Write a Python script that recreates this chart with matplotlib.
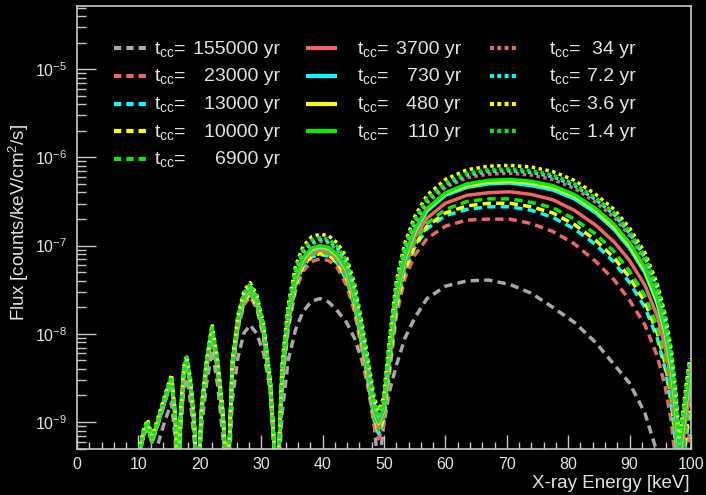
import matplotlib
matplotlib.use("Agg")
import matplotlib.pyplot as plt
import numpy as np
from matplotlib.lines import Line2D
from matplotlib.ticker import FixedLocator, MultipleLocator, NullFormatter

plt.rcParams["font.family"] = ["Liberation Sans", "DejaVu Sans"]
plt.rcParams["mathtext.fontset"] = "custom"
plt.rcParams["mathtext.rm"] = "Liberation Sans"
plt.rcParams["mathtext.it"] = "Liberation Sans:italic"
plt.rcParams["mathtext.default"] = "regular"

BG = "black"
FRAME = "#c8c8c8"
TEXT = "#e2e2e2"
C_GRAY = "#a8a8a8"
C_RED = "#f06464"
C_CYAN = "#00ffff"
C_YELLOW = "#ffff00"
C_GREEN = "#00f000"

# X-ray energy grid [keV]
energy = [10.0, 10.8, 11.5, 12.2, 13.0, 13.8, 14.6, 15.4, 16.0, 16.4,
          16.9, 17.4, 17.9, 18.5, 19.1, 19.6, 20.3, 21.1, 22.0, 22.9,
          23.8, 24.5, 25.3, 26.2, 27.2, 28.2, 29.3, 30.4, 31.5, 32.6,
          33.4, 34.4, 35.6, 36.8, 38.2, 39.6, 41.0, 42.4, 43.9, 45.2,
          46.4, 47.6, 48.4, 49.1, 49.9, 50.9, 52.0, 53.4, 55.0, 57.0,
          60.0, 63.5, 67.0, 70.5, 74.0, 77.5, 81.0, 84.5, 87.5, 90.0,
          92.5, 94.5, 95.8, 96.8, 97.5, 98.1, 98.6, 99.2, 99.8]

# log10 of flux [counts/keV/cm2/s], one list per t_cc
logflux_155000 = [
    -9.90, -9.60, -9.45, -9.60, -9.30, -9.10, -8.93, -8.78, -9.20, -9.95,
    -9.10, -8.62, -8.50, -8.78, -9.22, -9.95, -9.05, -8.57, -8.18, -8.58,
    -9.20, -9.95, -8.75, -8.27, -7.99, -7.90, -8.00, -8.22, -8.65, -9.95,
    -8.90, -8.30, -7.95, -7.75, -7.63, -7.60, -7.64, -7.74, -7.87, -8.05,
    -8.30, -8.65, -9.00, -9.60, -9.05, -8.65, -8.36, -8.05, -7.82, -7.60,
    -7.46, -7.40, -7.39, -7.44, -7.54, -7.70, -7.87, -8.10, -8.35, -8.56,
    -8.90, -9.35, -9.80, -10.30, -10.90, -11.50, -11.20, -10.70, -10.30]
logflux_23000 = [
    -9.42, -9.17, -9.05, -9.24, -9.07, -8.89, -8.71, -8.54, -8.97, -9.80,
    -8.95, -8.47, -8.35, -8.63, -9.07, -9.80, -8.92, -8.42, -8.02, -8.42,
    -9.02, -9.80, -8.45, -7.95, -7.67, -7.58, -7.72, -8.05, -8.68, -9.80,
    -8.60, -7.95, -7.51, -7.29, -7.18, -7.15, -7.17, -7.25, -7.45, -7.75,
    -8.19, -8.69, -9.04, -9.19, -9.05, -8.45, -7.80, -7.37, -7.11, -6.92,
    -6.78, -6.71, -6.70, -6.70, -6.75, -6.84, -6.98, -7.18, -7.39, -7.62,
    -7.90, -8.25, -8.60, -9.00, -9.45, -10.00, -9.75, -9.40, -9.10]
logflux_13000 = [
    -9.41, -9.16, -9.04, -9.23, -9.06, -8.88, -8.70, -8.53, -8.96, -9.80,
    -8.93, -8.45, -8.33, -8.61, -9.05, -9.80, -8.90, -8.40, -8.00, -8.40,
    -9.00, -9.80, -8.42, -7.92, -7.64, -7.55, -7.69, -8.02, -8.65, -9.80,
    -8.55, -7.90, -7.46, -7.24, -7.13, -7.10, -7.12, -7.20, -7.39, -7.69,
    -8.13, -8.63, -8.98, -9.13, -8.99, -8.37, -7.72, -7.29, -7.02, -6.81,
    -6.66, -6.59, -6.56, -6.56, -6.60, -6.68, -6.81, -6.99, -7.19, -7.42,
    -7.70, -8.05, -8.40, -8.80, -9.25, -9.80, -9.55, -9.20, -8.90]
logflux_10000 = [
    -9.41, -9.16, -9.04, -9.23, -9.06, -8.88, -8.70, -8.53, -8.96, -9.80,
    -8.93, -8.45, -8.33, -8.61, -9.05, -9.80, -8.89, -8.39, -7.99, -8.39,
    -8.99, -9.80, -8.41, -7.91, -7.63, -7.54, -7.68, -8.01, -8.64, -9.80,
    -8.54, -7.89, -7.45, -7.23, -7.12, -7.09, -7.11, -7.19, -7.37, -7.67,
    -8.11, -8.61, -8.96, -9.11, -8.97, -8.35, -7.70, -7.27, -7.00, -6.78,
    -6.63, -6.55, -6.52, -6.52, -6.56, -6.63, -6.76, -6.94, -7.14, -7.36,
    -7.64, -7.99, -8.34, -8.74, -9.19, -9.74, -9.49, -9.14, -8.84]
logflux_6900 = [
    -9.41, -9.16, -9.04, -9.23, -9.06, -8.88, -8.70, -8.53, -8.96, -9.80,
    -8.92, -8.44, -8.32, -8.60, -9.04, -9.80, -8.88, -8.38, -7.98, -8.38,
    -8.98, -9.80, -8.40, -7.90, -7.62, -7.53, -7.67, -8.00, -8.63, -9.80,
    -8.52, -7.87, -7.43, -7.21, -7.10, -7.07, -7.09, -7.17, -7.35, -7.65,
    -8.09, -8.59, -8.94, -9.09, -8.95, -8.32, -7.67, -7.24, -6.96, -6.75,
    -6.59, -6.50, -6.47, -6.47, -6.51, -6.57, -6.70, -6.87, -7.07, -7.29,
    -7.57, -7.92, -8.27, -8.67, -9.12, -9.67, -9.42, -9.07, -8.77]
logflux_3700 = [
    -9.41, -9.16, -9.04, -9.23, -9.06, -8.88, -8.70, -8.53, -8.96, -9.80,
    -8.91, -8.43, -8.31, -8.59, -9.03, -9.80, -8.87, -8.37, -7.97, -8.37,
    -8.97, -9.80, -8.38, -7.88, -7.60, -7.51, -7.65, -7.98, -8.61, -9.80,
    -8.50, -7.85, -7.41, -7.19, -7.08, -7.05, -7.07, -7.15, -7.32, -7.62,
    -8.06, -8.56, -8.91, -9.06, -8.92, -8.28, -7.63, -7.20, -6.91, -6.69,
    -6.52, -6.43, -6.40, -6.39, -6.42, -6.48, -6.60, -6.77, -6.96, -7.17,
    -7.45, -7.80, -8.15, -8.55, -9.00, -9.55, -9.30, -8.95, -8.65]
logflux_730 = [
    -9.40, -9.15, -9.03, -9.22, -9.05, -8.87, -8.69, -8.52, -8.95, -9.80,
    -8.90, -8.42, -8.30, -8.58, -9.02, -9.80, -8.85, -8.35, -7.95, -8.35,
    -8.95, -9.80, -8.36, -7.86, -7.58, -7.49, -7.63, -7.96, -8.59, -9.80,
    -8.47, -7.82, -7.38, -7.16, -7.05, -7.02, -7.04, -7.12, -7.28, -7.58,
    -8.02, -8.52, -8.87, -9.02, -8.88, -8.23, -7.58, -7.15, -6.85, -6.61,
    -6.43, -6.34, -6.30, -6.29, -6.32, -6.37, -6.47, -6.63, -6.82, -7.03,
    -7.31, -7.66, -8.01, -8.41, -8.86, -9.41, -9.16, -8.81, -8.51]
logflux_480 = [
    -9.40, -9.15, -9.03, -9.22, -9.05, -8.87, -8.69, -8.52, -8.95, -9.80,
    -8.90, -8.42, -8.30, -8.58, -9.02, -9.80, -8.85, -8.35, -7.95, -8.35,
    -8.95, -9.80, -8.35, -7.85, -7.57, -7.48, -7.62, -7.95, -8.58, -9.80,
    -8.46, -7.81, -7.37, -7.15, -7.04, -7.01, -7.03, -7.11, -7.27, -7.57,
    -8.01, -8.51, -8.86, -9.01, -8.87, -8.21, -7.56, -7.13, -6.83, -6.59,
    -6.41, -6.32, -6.28, -6.27, -6.29, -6.34, -6.44, -6.60, -6.79, -7.00,
    -7.28, -7.63, -7.98, -8.38, -8.83, -9.38, -9.13, -8.78, -8.48]
logflux_110 = [
    -9.40, -9.15, -9.03, -9.22, -9.05, -8.87, -8.69, -8.52, -8.95, -9.80,
    -8.90, -8.42, -8.30, -8.58, -9.02, -9.80, -8.85, -8.35, -7.95, -8.35,
    -8.95, -9.80, -8.35, -7.85, -7.57, -7.48, -7.62, -7.95, -8.58, -9.80,
    -8.45, -7.80, -7.36, -7.14, -7.03, -7.00, -7.02, -7.10, -7.26, -7.56,
    -8.00, -8.50, -8.85, -9.00, -8.86, -8.20, -7.55, -7.12, -6.82, -6.58,
    -6.40, -6.30, -6.26, -6.25, -6.27, -6.32, -6.42, -6.58, -6.76, -6.97,
    -7.25, -7.60, -7.95, -8.35, -8.80, -9.35, -9.10, -8.75, -8.45]
logflux_34 = [
    -9.38, -9.13, -9.01, -9.20, -9.03, -8.85, -8.67, -8.50, -8.93, -9.80,
    -8.88, -8.40, -8.28, -8.56, -9.00, -9.80, -8.83, -8.33, -7.93, -8.33,
    -8.93, -9.80, -8.33, -7.83, -7.55, -7.46, -7.60, -7.93, -8.56, -9.80,
    -8.40, -7.75, -7.31, -7.09, -6.98, -6.95, -6.97, -7.05, -7.21, -7.51,
    -7.95, -8.45, -8.80, -8.95, -8.81, -8.14, -7.49, -7.06, -6.76, -6.52,
    -6.34, -6.23, -6.19, -6.18, -6.20, -6.25, -6.35, -6.51, -6.68, -6.89,
    -7.17, -7.52, -7.87, -8.27, -8.72, -9.27, -9.02, -8.67, -8.37]
logflux_7p2 = [
    -9.37, -9.12, -9.00, -9.19, -9.02, -8.84, -8.66, -8.49, -8.92, -9.80,
    -8.87, -8.39, -8.27, -8.55, -8.99, -9.80, -8.82, -8.32, -7.92, -8.32,
    -8.92, -9.80, -8.32, -7.82, -7.54, -7.45, -7.59, -7.92, -8.55, -9.80,
    -8.38, -7.73, -7.29, -7.07, -6.96, -6.93, -6.95, -7.03, -7.19, -7.49,
    -7.93, -8.43, -8.78, -8.93, -8.79, -8.11, -7.46, -7.03, -6.73, -6.49,
    -6.31, -6.20, -6.16, -6.15, -6.17, -6.22, -6.32, -6.48, -6.65, -6.86,
    -7.14, -7.49, -7.84, -8.24, -8.69, -9.24, -8.99, -8.64, -8.34]
logflux_3p6 = [
    -9.34, -9.09, -8.97, -9.16, -8.99, -8.81, -8.63, -8.46, -8.89, -9.80,
    -8.84, -8.36, -8.24, -8.52, -8.96, -9.80, -8.79, -8.29, -7.89, -8.29,
    -8.89, -9.80, -8.29, -7.79, -7.51, -7.42, -7.56, -7.89, -8.52, -9.80,
    -8.32, -7.67, -7.23, -7.01, -6.90, -6.87, -6.89, -6.97, -7.13, -7.43,
    -7.87, -8.37, -8.72, -8.87, -8.73, -8.05, -7.40, -6.97, -6.67, -6.43,
    -6.25, -6.14, -6.10, -6.09, -6.11, -6.16, -6.26, -6.42, -6.59, -6.80,
    -7.08, -7.43, -7.78, -8.18, -8.63, -9.18, -8.93, -8.58, -8.28]
logflux_1p4 = [
    -9.36, -9.11, -8.99, -9.18, -9.01, -8.83, -8.65, -8.48, -8.91, -9.80,
    -8.86, -8.38, -8.26, -8.54, -8.98, -9.80, -8.81, -8.31, -7.91, -8.31,
    -8.91, -9.80, -8.31, -7.81, -7.53, -7.44, -7.58, -7.91, -8.54, -9.80,
    -8.36, -7.71, -7.27, -7.05, -6.94, -6.91, -6.93, -7.01, -7.17, -7.47,
    -7.91, -8.41, -8.76, -8.91, -8.77, -8.09, -7.44, -7.01, -6.71, -6.47,
    -6.29, -6.18, -6.14, -6.13, -6.15, -6.20, -6.30, -6.46, -6.63, -6.84,
    -7.12, -7.47, -7.82, -8.22, -8.67, -9.22, -8.97, -8.62, -8.32]

ages = ["155000", "23000", "13000", "10000", "6900",
        "3700", "730", "480", "110",
        "34", "7.2", "3.6", "1.4"]
colors = [C_GRAY, C_RED, C_CYAN, C_YELLOW, C_GREEN,
          C_RED, C_CYAN, C_YELLOW, C_GREEN,
          C_RED, C_CYAN, C_YELLOW, C_GREEN]
styles = ["dash"] * 5 + ["solid"] * 4 + ["dot"] * 4
curves = [logflux_155000, logflux_23000, logflux_13000, logflux_10000,
          logflux_6900, logflux_3700, logflux_730, logflux_480, logflux_110,
          logflux_34, logflux_7p2, logflux_3p6, logflux_1p4]

LW = 2.5
PLOT_LS = {"dash": (0, (2.4, 1.5)), "solid": "-", "dot": (0, (1.0, 1.0))}
HANDLE_LS = {"dash": (0, (1.75, 1.2)), "solid": "-", "dot": (0, (0.95, 0.8))}

YMIN, YMAX = 4.95e-10, 5.2e-5

W, H = 706, 495
fig = plt.figure(figsize=(W / 100, H / 100), dpi=100, facecolor=BG)
ax = fig.add_axes([77 / W, 46 / H, 614 / W, 443 / H], facecolor=BG)

x = np.array(energy)
for logf, col, st in zip(curves, colors, styles):
    ax.plot(x, 10.0 ** np.array(logf), color=col, lw=LW, linestyle=PLOT_LS[st],
            dash_capstyle="butt", solid_capstyle="butt")

ax.set_yscale("log")
ax.set_xlim(0, 100)
ax.set_ylim(YMIN, YMAX)
ax.xaxis.set_major_locator(MultipleLocator(10))
ax.xaxis.set_minor_locator(MultipleLocator(2))
y_major = [10.0 ** p for p in range(-9, -4)]
y_minor = [k * 10.0 ** p for p in range(-10, -4) for k in range(2, 10)
           if YMIN < k * 10.0 ** p < YMAX]
ax.yaxis.set_major_locator(FixedLocator(y_major))
ax.yaxis.set_minor_locator(FixedLocator(y_minor))
ax.yaxis.set_minor_formatter(NullFormatter())

ax.tick_params(axis="both", which="both", direction="in", color=FRAME,
               labelcolor=TEXT, top=False, right=False, width=1.0)
ax.tick_params(axis="y", which="major", length=13.5, labelsize=11.5, pad=7)
ax.tick_params(axis="y", which="minor", length=6.7)
ax.tick_params(axis="x", which="major", length=10, labelsize=11.5, pad=6)
ax.tick_params(axis="x", which="minor", length=5)
for sp in ax.spines.values():
    sp.set_color(FRAME)
    sp.set_linewidth(1.2)

fig.text(690 / W, 1 - 488 / H, "X-ray Energy [keV]", ha="right",
         va="baseline", fontsize=13.5, color=TEXT)
fig.text(19 / W, 1 - 222 / H, "Flux [counts/keV/cm$^{2}$/s]", rotation=90,
         ha="center", va="center", fontsize=13.5, color=TEXT)

# hand-built legend: 3 columns, numbers right aligned
col_handle = [(114, 147), (306, 337), (490, 519)]
col_tcc = [154, 357, 549]
col_end = [280, 461, 636]
row0, row_step = 48.3, 27.6
for i, (age, col, st) in enumerate(zip(ages, colors, styles)):
    c = 0 if i < 5 else (1 if i < 9 else 2)
    r = i if i < 5 else (i - 5 if i < 9 else i - 9)
    yp = row0 + r * row_step
    yf = 1 - yp / H
    h0, h1 = col_handle[c]
    fig.add_artist(Line2D([h0 / W, h1 / W], [yf, yf], transform=fig.transFigure,
                          color=col, lw=3.0, linestyle=HANDLE_LS[st],
                          dash_capstyle="butt", solid_capstyle="butt"))
    yb = 1 - (yp + 5.5) / H
    fig.text(col_tcc[c] / W, yb, r"t$_{cc}$=", ha="left", va="baseline",
             fontsize=14, color=TEXT)
    fig.text(col_end[c] / W, yb, age + " yr", ha="right", va="baseline",
             fontsize=14, color=TEXT)

fig.savefig("out.png", dpi=100, facecolor=BG)
